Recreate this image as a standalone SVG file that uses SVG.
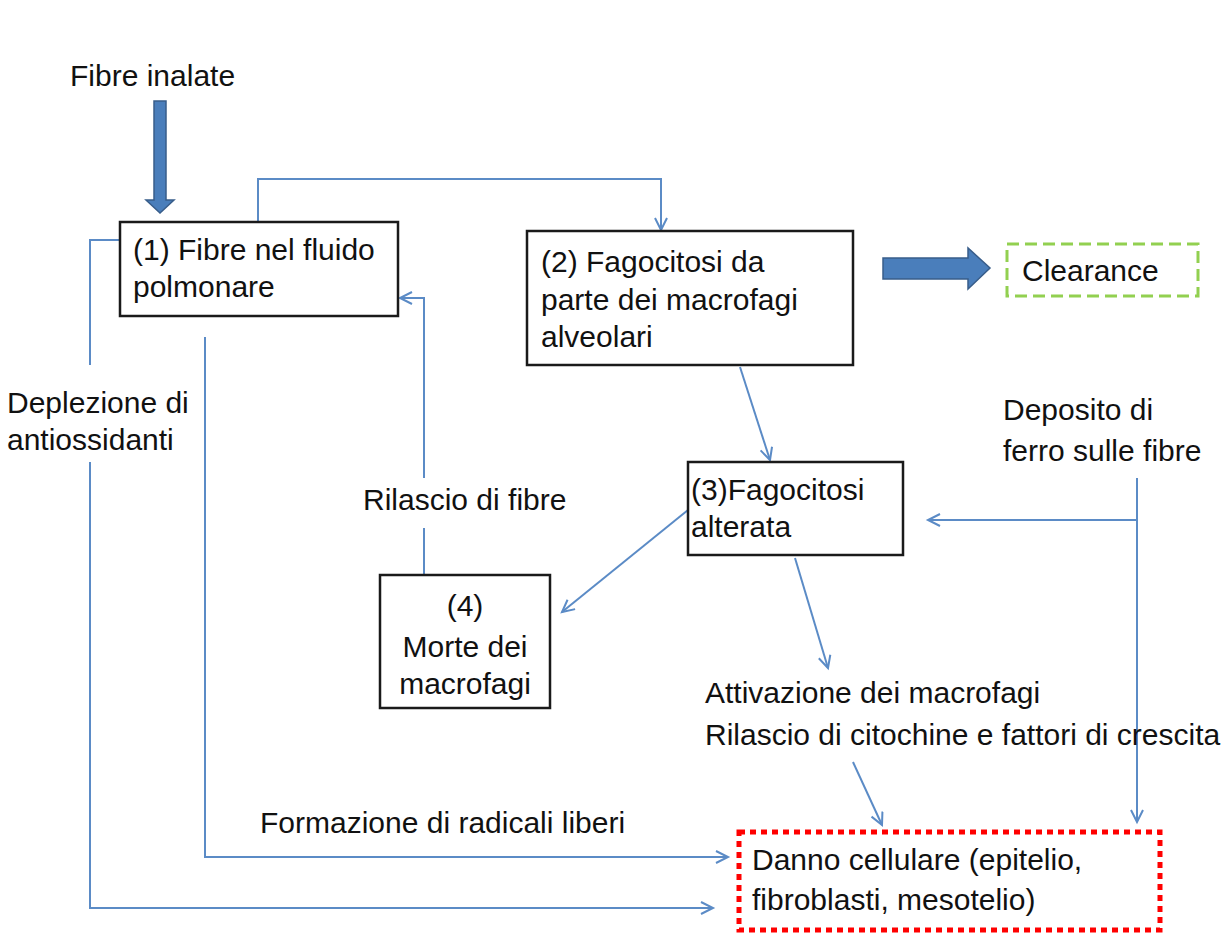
<svg xmlns="http://www.w3.org/2000/svg" width="1231" height="936" viewBox="0 0 1231 936">
<defs>
<style>
text{font-family:"Liberation Sans",Arial,sans-serif;font-size:30px;fill:#111}
.box{fill:#fff;stroke:#1a1a1a;stroke-width:2.5}
.con{fill:none;stroke:#5b8bc6;stroke-width:2}
.big{fill:#4a7ebb;stroke:#385d8a;stroke-width:1.5}
</style>
<marker id="ah" markerUnits="userSpaceOnUse" markerWidth="16" markerHeight="16" refX="13" refY="7" orient="auto">
<path d="M1,1 L13,7 L1,13" fill="none" stroke="#5b8bc6" stroke-width="2"/>
</marker>
</defs>
<rect width="1231" height="936" fill="#fff"/>

<g id="connectors">
<path class="con" d="M258,222 V179 H661 V230" marker-end="url(#ah)"/>
<path class="con" d="M740,367 L770,460" marker-end="url(#ah)"/>
<path class="con" d="M1137,520 H928" marker-end="url(#ah)"/>
<path class="con" d="M1137,478 V822" marker-end="url(#ah)"/>
<path class="con" d="M688,510 L562,612" marker-end="url(#ah)"/>
<path class="con" d="M795,558 L828,668" marker-end="url(#ah)"/>
<path class="con" d="M424,575 V528"/>
<path class="con" d="M424,478 V298 H400" marker-end="url(#ah)"/>
<path class="con" d="M853,762 L882,825" marker-end="url(#ah)"/>
<path class="con" d="M120,240 H90 V365"/>
<path class="con" d="M90,462 V908 H713" marker-end="url(#ah)"/>
<path class="con" d="M205,337 V857 H728" marker-end="url(#ah)"/>
<polygon class="big" points="154,101 166,101 166,200 174,200 160,213 146,200 154,200"/>
<polygon class="big" points="883,258 968,258 968,248 990,268 968,289 968,279 883,279"/>
</g>

<g id="label-inalate"><text x="70" y="86">Fibre inalate</text></g>

<g id="node1">
<rect class="box" x="120" y="222" width="278" height="94"/>
<text x="133" y="260">(1) Fibre nel fluido</text>
<text x="133" y="297">polmonare</text>
</g>

<g id="node2">
<rect class="box" x="527" y="231" width="326" height="134"/>
<text x="541" y="272">(2) Fagocitosi da</text>
<text x="541" y="310">parte dei macrofagi</text>
<text x="541" y="347">alveolari</text>
</g>

<g id="clearance">
<rect x="1007" y="244" width="191" height="52" fill="#fff" stroke="#92d050" stroke-width="3" stroke-dasharray="12,6"/>
<text x="1022" y="281">Clearance</text>
</g>

<g id="node3">
<rect class="box" x="688" y="462" width="215" height="93"/>
<text x="691" y="500">(3)Fagocitosi</text>
<text x="691" y="537">alterata</text>
</g>

<g id="node4">
<rect class="box" x="380" y="575" width="170" height="133"/>
<text x="465" y="616" text-anchor="middle">(4)</text>
<text x="465" y="657" text-anchor="middle">Morte dei</text>
<text x="465" y="694" text-anchor="middle">macrofagi</text>
</g>

<g id="label-rilascio"><text x="363" y="510">Rilascio di fibre</text></g>

<g id="label-deposito">
<text x="1003" y="420">Deposito di</text>
<text x="1003" y="461">ferro sulle fibre</text>
</g>

<g id="label-deplezione">
<text x="7" y="413">Deplezione di</text>
<text x="7" y="450">antiossidanti</text>
</g>

<g id="label-attivazione">
<text x="705" y="703">Attivazione dei macrofagi</text>
<text x="705" y="745">Rilascio di citochine e fattori di crescita</text>
</g>

<g id="label-formazione"><text x="260" y="833">Formazione di radicali liberi</text></g>

<g id="danno">
<rect x="739" y="832" width="421" height="98" fill="#fff" stroke="#ff0000" stroke-width="5" stroke-dasharray="6,5"/>
<text x="752" y="870">Danno cellulare (epitelio,</text>
<text x="752" y="910">fibroblasti, mesotelio)</text>
</g>
</svg>
